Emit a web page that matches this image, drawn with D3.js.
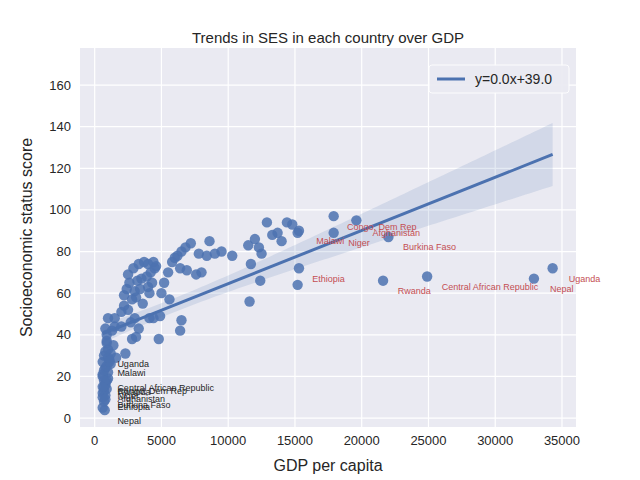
<!DOCTYPE html>
<html><head><meta charset="utf-8">
<script src="https://cdn.jsdelivr.net/npm/d3@7"></script>
<style>body{margin:0;background:#fff}text{font-family:"Liberation Sans",Arial,sans-serif}</style>
</head><body><svg id="chart"></svg>
<script>
// GDP per capita (thousands) and SES score
const gdp = [0.75,0.6,0.6,0.7,0.8,0.9,0.6,1.0,0.8,1.1,0.7,1.2,1.0,1.4,0.9,0.9,1.3,0.8,1.5,1.2,1.6,2.3,
  0.6,0.7,0.8,0.6,0.9,0.7,0.8,1.0,0.6,0.7,0.9,0.8,1.1,0.7,0.6,1.0,0.8,0.9,
  1.0,1.5,2.0,2.2,2.5,2.2,2.4,2.6,2.5,2.9,3.3,3.7,4.0,4.4,4.6,3.0,3.4,3.1,2.8,3.2,3.5,3.9,4.2,4.5,4.0,4.3,3.6,4.1,
  2.7,3.0,3.3,2.0,2.8,3.1,4.1,4.9,4.8,5.2,5.5,5.8,6.0,6.2,6.5,6.8,7.2,6.4,6.9,7.6,8.0,7.8,8.4,8.6,9.0,9.5,10.3,
  11.5,11.7,12.0,12.3,12.5,12.9,13.3,13.7,14.0,14.4,14.8,15.2,11.6,12.4,6.5,6.4,5.0,4.4,5.6,
  17.9,17.9,19.6,22.0,15.3,15.3,15.2,21.6,24.9,32.9,34.3];
const ses = [3.8,27,10,13,16,18,20,22,24,28,30,31,33,35,37,40,42,43,44,26,29,31,
  5,8,11,12,14,15,17,19,21,23,25,9,27,18,15,29,32,36,
  48,48,51,54,52,59,62,65,69,72,74,75,74,75,73,61,62,58,57,66,67,68,70,72,63,65,55,60,
  46,48,43,44,38,39,48,49,38,65,70,75,77,78,80,82,84,72,71,69,70,79,78,85,79,80,78,
  83,74,86,82,79,94,88,89,85,94,93,89,56,66,47,42,60,48,57,
  97,89,95,87,90,72,64,66,68,67,72];
// country labels: [name, gdp, ses]
const redLabels = [["Malawi",16.6,85],["Niger",19.0,84],["Congo, Dem Rep",18.9,92],["Afghanistan",20.8,89],
  ["Burkina Faso",23.1,82],["Ethiopia",16.3,67],["Rwanda",22.7,61],["Central African Republic",26.0,63],
  ["Nepal",34.1,62],["Uganda",35.5,67]];
const blackLabels = [["Uganda",26],["Malawi",21.6],["Central African Republic",14.4],["Congo, Dem Rep",13],
  ["Rwanda",12.5],["Niger",10.6],["Afghanistan",9.1],["Burkina Faso",6.2],["Ethiopia",5.3],["Nepal",-1.4]];
const blackLabelX = 1.7;
const xTicks = [0,5000,10000,15000,20000,25000,30000,35000];
const yTicks = [0,20,40,60,80,100,120,140,160];

const W = 640, H = 480, L = 80, R = 576, T = 48, B = 427;
const svg = d3.select('#chart').attr('width', W).attr('height', H);
const x = d3.scaleLinear().domain([-1100, 36050]).range([L, R]);
const y = d3.scaleLinear().domain([-4.3, 177.8]).range([B, T]);

svg.append('rect').attr('x', L).attr('y', T).attr('width', R - L).attr('height', B - T).attr('fill', '#eaeaf2');
const g = svg.append('g');
g.selectAll('.gx').data(xTicks).join('line').attr('x1', d => x(d)).attr('x2', d => x(d))
  .attr('y1', T).attr('y2', B).attr('stroke', '#fff').attr('stroke-width', 1.2);
g.selectAll('.gy').data(yTicks).join('line').attr('y1', d => y(d)).attr('y2', d => y(d))
  .attr('x1', L).attr('x2', R).attr('stroke', '#fff').attr('stroke-width', 1.2);

// OLS fit with 95% CI
const pts = gdp.map((v, i) => [v * 1000, ses[i]]);
const n = pts.length, mx = d3.mean(pts, d => d[0]), my = d3.mean(pts, d => d[1]);
const sxx = d3.sum(pts, d => (d[0] - mx) ** 2);
const slope = d3.sum(pts, d => (d[0] - mx) * (d[1] - my)) / sxx;
const icpt = my - slope * mx;
const s = Math.sqrt(d3.sum(pts, d => (d[1] - icpt - slope * d[0]) ** 2) / (n - 2));
const [x0, x1] = d3.extent(pts, d => d[0]);
const grid = d3.range(0, 101).map(i => x0 + (x1 - x0) * i / 100);
const band = grid.map(v => {
  const f = icpt + slope * v, h = 1.98 * s * Math.sqrt(1 / n + (v - mx) ** 2 / sxx);
  return [v, f - h, f + h];
});
svg.append('path').datum(band)
  .attr('d', d3.area().x(d => x(d[0])).y0(d => y(d[1])).y1(d => y(d[2])))
  .attr('fill', '#4c72b0').attr('opacity', 0.15);

svg.selectAll('circle').data(pts).join('circle')
  .attr('cx', d => x(d[0])).attr('cy', d => y(d[1])).attr('r', 5.2)
  .attr('fill', '#4c72b0').attr('opacity', 0.85);

svg.append('line').attr('x1', x(x0)).attr('x2', x(x1))
  .attr('y1', y(icpt + slope * x0)).attr('y2', y(icpt + slope * x1))
  .attr('stroke', '#4c72b0').attr('stroke-width', 3);

svg.selectAll('.rl').data(redLabels).join('text')
  .attr('x', d => x(d[1] * 1000)).attr('y', d => y(d[2]) + 3)
  .attr('font-size', 9).attr('fill', '#c44e52').text(d => d[0]);
svg.selectAll('.bl').data(blackLabels).join('text')
  .attr('x', x(blackLabelX * 1000)).attr('y', d => y(d[1]) + 3)
  .attr('font-size', 9).attr('fill', '#262626').text(d => d[0]);

// axes tick labels
svg.selectAll('.xt').data(xTicks).join('text').attr('x', d => x(d)).attr('y', B + 18)
  .attr('text-anchor', 'middle').attr('font-size', 13).attr('fill', '#262626').text(d => d);
svg.selectAll('.yt').data(yTicks).join('text').attr('x', L - 9).attr('y', d => y(d) + 4.5)
  .attr('text-anchor', 'end').attr('font-size', 13).attr('fill', '#262626').text(d => d);

svg.append('text').attr('x', (L + R) / 2).attr('y', 471).attr('text-anchor', 'middle')
  .attr('font-size', 16).attr('fill', '#262626').text('GDP per capita');
svg.append('text').attr('transform', `translate(32,${(T + B) / 2}) rotate(-90)`).attr('text-anchor', 'middle')
  .attr('font-size', 16).attr('fill', '#262626').text('Socioeconomic status score');
svg.append('text').attr('x', (L + R) / 2).attr('y', 43).attr('text-anchor', 'middle')
  .attr('font-size', 15).attr('fill', '#262626').text('Trends in SES in each country over GDP');

// legend
const lg = svg.append('g').attr('transform', `translate(${R - 147},${T + 17})`);
lg.append('rect').attr('width', 140).attr('height', 28).attr('rx', 3)
  .attr('fill', '#eaeaf2').attr('stroke', '#fff').attr('opacity', 0.9);
lg.append('line').attr('x1', 8).attr('x2', 36).attr('y1', 14).attr('y2', 14)
  .attr('stroke', '#4c72b0').attr('stroke-width', 3);
lg.append('text').attr('x', 46).attr('y', 19).attr('font-size', 14).attr('fill', '#262626')
  .text(`y=${slope.toFixed(1)}x+${icpt.toFixed(1)}`);
</script></body></html>
